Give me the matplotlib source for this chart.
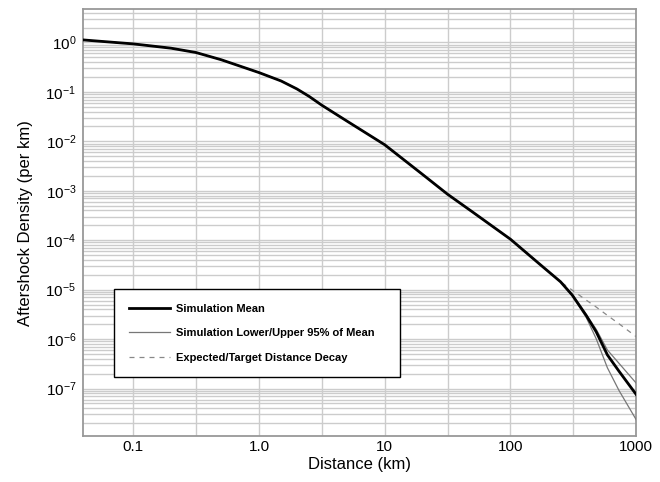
import numpy as np
import matplotlib.pyplot as plt
from matplotlib.ticker import FixedLocator, FixedFormatter, LogLocator, NullFormatter

plt.rcParams['font.family'] = ['Liberation Sans', 'DejaVu Sans']
plt.rcParams['mathtext.fontset'] = 'custom'
plt.rcParams['mathtext.rm'] = 'Liberation Sans'
plt.rcParams['mathtext.it'] = 'Liberation Sans:italic'
plt.rcParams['mathtext.bf'] = 'Liberation Sans:bold'

# distancia (km) y log10 de la densidad
dist = [0.04, 0.1, 0.2, 0.316, 0.5, 1.0, 1.5, 2.0, 2.5, 3.16, 5.0, 10, 20, 31.6, 50, 100,
        170, 250, 310, 400, 480, 590, 730, 1000]
log_media = [0.05, -0.03, -0.117, -0.205, -0.35, -0.61, -0.78, -0.94, -1.09, -1.27, -1.59,
             -2.07, -2.67, -3.07, -3.43, -3.98, -4.48, -4.84, -5.11, -5.52, -5.85, -6.32,
             -6.65, -7.12]
log_inf = [0.05, -0.03, -0.117, -0.205, -0.35, -0.61, -0.78, -0.94, -1.09, -1.27, -1.59,
           -2.07, -2.67, -3.07, -3.43, -3.98, -4.48, -4.84, -5.12, -5.56, -5.99, -6.58,
           -7.04, -7.63]
log_sup = [0.05, -0.03, -0.117, -0.205, -0.35, -0.61, -0.78, -0.94, -1.09, -1.27, -1.59,
           -2.07, -2.67, -3.07, -3.43, -3.98, -4.48, -4.84, -5.10, -5.50, -5.80, -6.22,
           -6.49, -6.89]
log_esp = [0.05, -0.03, -0.117, -0.205, -0.35, -0.61, -0.78, -0.94, -1.09, -1.27, -1.59,
           -2.07, -2.67, -3.07, -3.43, -3.98, -4.48, -4.84, -5.01, -5.21, -5.35, -5.52,
           -5.69, -5.95]

xticks = [0.1, 1.0, 10, 100, 1000]
xlabels = ['0.1', '1.0', '10', '100', '1000']
yticks = [1e-7, 1e-6, 1e-5, 1e-4, 1e-3, 1e-2, 1e-1, 1e0]
ylabels = ['$10^{-7}$', '$10^{-6}$', '$10^{-5}$', '$10^{-4}$', '$10^{-3}$', '$10^{-2}$',
           '$10^{-1}$', '$10^{0}$']

fig = plt.figure(figsize=(6.6, 4.82), dpi=100)
ax = fig.add_axes([0.126, 0.0954, 0.838, 0.8856])

ax.plot(dist, 10 ** np.array(log_esp), color='#888888', lw=0.9, dashes=(4, 4),
        label='Expected/Target Distance Decay', zorder=3)
ax.plot(dist, 10 ** np.array(log_inf), color='#777777', lw=0.9,
        label='Simulation Lower/Upper 95% of Mean', zorder=3)
ax.plot(dist, 10 ** np.array(log_sup), color='#777777', lw=0.9, zorder=3)
ax.plot(dist, 10 ** np.array(log_media), color='black', lw=2.0, label='Simulation Mean', zorder=4)

ax.set_xscale('log')
ax.set_yscale('log')
ax.set_xlim(0.04, 1000)
ax.set_ylim(1.1e-8, 4.7)

ax.xaxis.set_major_locator(FixedLocator(xticks))
ax.xaxis.set_major_formatter(FixedFormatter(xlabels))
ax.xaxis.set_minor_locator(FixedLocator([10 ** (k + 0.5) for k in range(-2, 3)]))
ax.xaxis.set_minor_formatter(NullFormatter())
ax.yaxis.set_major_locator(FixedLocator(yticks))
ax.yaxis.set_major_formatter(FixedFormatter(ylabels))
ax.yaxis.set_minor_locator(LogLocator(base=10, subs=np.arange(2, 10), numticks=20))
ax.yaxis.set_minor_formatter(NullFormatter())
ax.tick_params(which='both', length=0, labelsize=11)
ax.tick_params(axis='x', pad=3)
ax.tick_params(axis='y', pad=5)

ax.grid(True, which='both', color='#cccccc', lw=1.0)
ax.set_axisbelow(True)
for s in ax.spines.values():
    s.set_color('#999999')
    s.set_linewidth(1.3)

ax.set_xlabel('Distance (km)', fontsize=12, labelpad=2)
ax.set_ylabel('Aftershock Density (per km)', fontsize=12, labelpad=9)

h, l = ax.get_legend_handles_labels()
orden = [2, 1, 0]
leg = ax.legend([h[i] for i in orden], [l[i] for i in orden], loc='upper left',
                bbox_to_anchor=(0.056, 0.138, 0.517, 0.206), mode='expand', borderaxespad=0,
                prop={'weight': 'bold', 'size': 8}, handlelength=3.7, handletextpad=0.6,
                labelspacing=1.3, borderpad=1.3, fancybox=False, framealpha=1)
leg.get_frame().set_edgecolor('black')
leg.get_frame().set_linewidth(1.0)

fig.savefig('out.png', dpi=100)
